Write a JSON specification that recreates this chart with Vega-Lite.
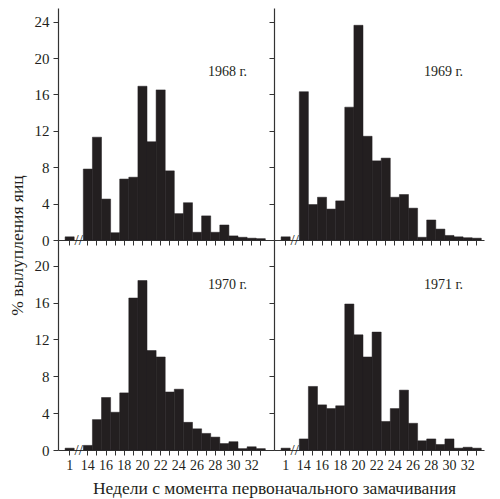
{
  "$schema": "https://vega.github.io/schema/vega-lite/v6.json",
  "padding": {"left": 8, "top": 8, "right": 6, "bottom": 2},
  "background": "white",
  "datasets": {
    "hatch": [
      {"year": 1968, "week": "1", "value": 0.35},
      {"year": 1968, "week": "14", "value": 7.8},
      {"year": 1968, "week": "15", "value": 11.3},
      {"year": 1968, "week": "16", "value": 4.5},
      {"year": 1968, "week": "17", "value": 0.8},
      {"year": 1968, "week": "18", "value": 6.7},
      {"year": 1968, "week": "19", "value": 6.9},
      {"year": 1968, "week": "20", "value": 16.9},
      {"year": 1968, "week": "21", "value": 10.8},
      {"year": 1968, "week": "22", "value": 16.5},
      {"year": 1968, "week": "23", "value": 7.6},
      {"year": 1968, "week": "24", "value": 2.9},
      {"year": 1968, "week": "25", "value": 4.1},
      {"year": 1968, "week": "26", "value": 0.85},
      {"year": 1968, "week": "27", "value": 2.65},
      {"year": 1968, "week": "28", "value": 0.85},
      {"year": 1968, "week": "29", "value": 1.65},
      {"year": 1968, "week": "30", "value": 0.45},
      {"year": 1968, "week": "31", "value": 0.3},
      {"year": 1968, "week": "32", "value": 0.2},
      {"year": 1968, "week": "33", "value": 0.15},
      {"year": 1969, "week": "1", "value": 0.35},
      {"year": 1969, "week": "14", "value": 16.3},
      {"year": 1969, "week": "15", "value": 3.9},
      {"year": 1969, "week": "16", "value": 4.7},
      {"year": 1969, "week": "17", "value": 3.4},
      {"year": 1969, "week": "18", "value": 4.3},
      {"year": 1969, "week": "19", "value": 14.6},
      {"year": 1969, "week": "20", "value": 23.6},
      {"year": 1969, "week": "21", "value": 11.4},
      {"year": 1969, "week": "22", "value": 8.7},
      {"year": 1969, "week": "23", "value": 9.0},
      {"year": 1969, "week": "24", "value": 4.7},
      {"year": 1969, "week": "25", "value": 5.0},
      {"year": 1969, "week": "26", "value": 3.5},
      {"year": 1969, "week": "27", "value": 0.3},
      {"year": 1969, "week": "28", "value": 2.2},
      {"year": 1969, "week": "29", "value": 1.2},
      {"year": 1969, "week": "30", "value": 0.5},
      {"year": 1969, "week": "31", "value": 0.35},
      {"year": 1969, "week": "32", "value": 0.25},
      {"year": 1969, "week": "33", "value": 0.2},
      {"year": 1970, "week": "1", "value": 0.2},
      {"year": 1970, "week": "14", "value": 0.5},
      {"year": 1970, "week": "15", "value": 3.3},
      {"year": 1970, "week": "16", "value": 5.7},
      {"year": 1970, "week": "17", "value": 4.1},
      {"year": 1970, "week": "18", "value": 6.2},
      {"year": 1970, "week": "19", "value": 16.5},
      {"year": 1970, "week": "20", "value": 18.4},
      {"year": 1970, "week": "21", "value": 10.8},
      {"year": 1970, "week": "22", "value": 10.1},
      {"year": 1970, "week": "23", "value": 6.3},
      {"year": 1970, "week": "24", "value": 6.6},
      {"year": 1970, "week": "25", "value": 3.0},
      {"year": 1970, "week": "26", "value": 2.3},
      {"year": 1970, "week": "27", "value": 1.8},
      {"year": 1970, "week": "28", "value": 1.4},
      {"year": 1970, "week": "29", "value": 0.7},
      {"year": 1970, "week": "30", "value": 0.9},
      {"year": 1970, "week": "31", "value": 0.15},
      {"year": 1970, "week": "32", "value": 0.35},
      {"year": 1970, "week": "33", "value": 0.15},
      {"year": 1971, "week": "1", "value": 0.2},
      {"year": 1971, "week": "14", "value": 1.2},
      {"year": 1971, "week": "15", "value": 6.9},
      {"year": 1971, "week": "16", "value": 4.9},
      {"year": 1971, "week": "17", "value": 4.5},
      {"year": 1971, "week": "18", "value": 4.8},
      {"year": 1971, "week": "19", "value": 15.85},
      {"year": 1971, "week": "20", "value": 12.5},
      {"year": 1971, "week": "21", "value": 10.1},
      {"year": 1971, "week": "22", "value": 12.8},
      {"year": 1971, "week": "23", "value": 3.1},
      {"year": 1971, "week": "24", "value": 4.5},
      {"year": 1971, "week": "25", "value": 6.5},
      {"year": 1971, "week": "26", "value": 2.9},
      {"year": 1971, "week": "27", "value": 1.0},
      {"year": 1971, "week": "28", "value": 1.2},
      {"year": 1971, "week": "29", "value": 0.6},
      {"year": 1971, "week": "30", "value": 1.2},
      {"year": 1971, "week": "31", "value": 0.2},
      {"year": 1971, "week": "32", "value": 0.3},
      {"year": 1971, "week": "33", "value": 0.2}
    ]
  },
  "columns": 2,
  "spacing": 0,
  "bounds": "flush",
  "concat": [
    {
      "width": 216,
      "height": 232,
      "layer": [
        {
          "data": {"name": "hatch"},
          "transform": [{"filter": "datum.year == 1968"}],
          "mark": {"type": "bar", "color": "#231f20", "stroke": "#231f20", "strokeWidth": 0.5},
          "encoding": {
            "x": {
              "field": "week", "type": "ordinal",
              "scale": {"domain": ["1", "gap", "14", "15", "16", "17", "18", "19", "20", "21", "22", "23", "24", "25", "26", "27", "28", "29", "30", "31", "32", "33"], "paddingInner": 0, "paddingOuter": 0.868, "align": 0.45},
              "axis": {"title": null, "labels": false, "bandPosition": 0.5, "values": ["1", "14", "15", "16", "17", "18", "19", "20", "21", "22", "23", "24", "25", "26", "27", "28", "29", "30", "31", "32", "33"]}
            },
            "y": {
              "field": "value", "type": "quantitative",
              "scale": {"domain": [0, 25.5], "nice": false},
              "axis": {
                "values": [0, 4, 8, 12, 16, 20, 24],
                "tickCount": 12,
                "title": "% вылупления яиц",
                "titleX": -41, "titleY": 237, "titleAngle": -90,
                "titleAlign": "center", "titleBaseline": "middle"
              }
            }
          }
        },
        {
          "data": {"values": [{"label": "1968 г."}]},
          "mark": {"type": "text", "align": "right", "baseline": "middle", "fontSize": 14, "color": "#231f20"},
          "encoding": {
            "x": {"datum": "32", "type": "ordinal", "bandPosition": 0},
            "y": {"datum": 18.5, "type": "quantitative"},
            "text": {"field": "label"}
          }
        },
        {
          "data": {"values": [{"mark": "//"}]},
          "mark": {"type": "text", "align": "center", "baseline": "middle", "fontSize": 15, "color": "#231f20"},
          "encoding": {
            "x": {"datum": "gap", "type": "ordinal"},
            "y": {"datum": 0, "type": "quantitative"},
            "text": {"field": "mark"}
          }
        }
      ]
    },
    {
      "width": 210,
      "height": 232,
      "layer": [
        {
          "data": {"name": "hatch"},
          "transform": [{"filter": "datum.year == 1969"}],
          "mark": {"type": "bar", "color": "#231f20", "stroke": "#231f20", "strokeWidth": 0.5},
          "encoding": {
            "x": {
              "field": "week", "type": "ordinal",
              "scale": {"domain": ["1", "gap", "14", "15", "16", "17", "18", "19", "20", "21", "22", "23", "24", "25", "26", "27", "28", "29", "30", "31", "32", "33"], "paddingInner": 0, "paddingOuter": 0.538, "align": 0.724},
              "axis": {"title": null, "labels": false, "bandPosition": 0.5, "values": ["1", "14", "15", "16", "17", "18", "19", "20", "21", "22", "23", "24", "25", "26", "27", "28", "29", "30", "31", "32", "33"]}
            },
            "y": {
              "field": "value", "type": "quantitative",
              "scale": {"domain": [0, 25.5], "nice": false},
              "axis": {"values": [0, 4, 8, 12, 16, 20, 24], "tickCount": 12, "labels": false, "title": null}
            }
          }
        },
        {
          "data": {"values": [{"label": "1969 г."}]},
          "mark": {"type": "text", "align": "right", "baseline": "middle", "fontSize": 14, "color": "#231f20"},
          "encoding": {
            "x": {"datum": "32", "type": "ordinal", "bandPosition": 0},
            "y": {"datum": 18.5, "type": "quantitative"},
            "text": {"field": "label"}
          }
        },
        {
          "data": {"values": [{"mark": "//"}]},
          "mark": {"type": "text", "align": "center", "baseline": "middle", "fontSize": 15, "color": "#231f20"},
          "encoding": {
            "x": {"datum": "gap", "type": "ordinal"},
            "y": {"datum": 0, "type": "quantitative"},
            "text": {"field": "mark"}
          }
        }
      ]
    },
    {
      "width": 216,
      "height": 210,
      "layer": [
        {
          "data": {"name": "hatch"},
          "transform": [{"filter": "datum.year == 1970"}],
          "mark": {"type": "bar", "color": "#231f20", "stroke": "#231f20", "strokeWidth": 0.5},
          "encoding": {
            "x": {
              "field": "week", "type": "ordinal",
              "scale": {"domain": ["1", "gap", "14", "15", "16", "17", "18", "19", "20", "21", "22", "23", "24", "25", "26", "27", "28", "29", "30", "31", "32", "33"], "paddingInner": 0, "paddingOuter": 0.868, "align": 0.45},
              "axis": {
                "bandPosition": 0.5,
                "values": ["1", "14", "15", "16", "17", "18", "19", "20", "21", "22", "23", "24", "25", "26", "27", "28", "29", "30", "31", "32", "33"],
                "labelExpr": "datum.value == '1' || (toNumber(datum.value) % 2 == 0 && toNumber(datum.value) < 33) ? datum.value : ''",
                "title": "Недели с момента первоначального замачивания",
                "titleX": 216, "titleY": 38, "titleAlign": "center", "titleBaseline": "middle"
              }
            },
            "y": {
              "field": "value", "type": "quantitative",
              "scale": {"domain": [0, 22.8], "nice": false},
              "axis": {"values": [0, 4, 8, 12, 16, 20], "tickCount": 12, "title": null}
            }
          }
        },
        {
          "data": {"values": [{"label": "1970 г."}]},
          "mark": {"type": "text", "align": "right", "baseline": "middle", "fontSize": 14, "color": "#231f20"},
          "encoding": {
            "x": {"datum": "32", "type": "ordinal", "bandPosition": 0},
            "y": {"datum": 17.9, "type": "quantitative"},
            "text": {"field": "label"}
          }
        },
        {
          "data": {"values": [{"mark": "//"}]},
          "mark": {"type": "text", "align": "center", "baseline": "middle", "fontSize": 15, "color": "#231f20"},
          "encoding": {
            "x": {"datum": "gap", "type": "ordinal"},
            "y": {"datum": 0, "type": "quantitative"},
            "text": {"field": "mark"}
          }
        }
      ]
    },
    {
      "width": 210,
      "height": 210,
      "layer": [
        {
          "data": {"name": "hatch"},
          "transform": [{"filter": "datum.year == 1971"}],
          "mark": {"type": "bar", "color": "#231f20", "stroke": "#231f20", "strokeWidth": 0.5},
          "encoding": {
            "x": {
              "field": "week", "type": "ordinal",
              "scale": {"domain": ["1", "gap", "14", "15", "16", "17", "18", "19", "20", "21", "22", "23", "24", "25", "26", "27", "28", "29", "30", "31", "32", "33"], "paddingInner": 0, "paddingOuter": 0.538, "align": 0.724},
              "axis": {
                "title": null,
                "bandPosition": 0.5,
                "values": ["1", "14", "15", "16", "17", "18", "19", "20", "21", "22", "23", "24", "25", "26", "27", "28", "29", "30", "31", "32", "33"],
                "labelExpr": "datum.value == '1' || (toNumber(datum.value) % 2 == 0 && toNumber(datum.value) < 33) ? datum.value : ''"
              }
            },
            "y": {
              "field": "value", "type": "quantitative",
              "scale": {"domain": [0, 22.8], "nice": false},
              "axis": {"values": [0, 4, 8, 12, 16, 20], "tickCount": 12, "labels": false, "title": null}
            }
          }
        },
        {
          "data": {"values": [{"label": "1971 г."}]},
          "mark": {"type": "text", "align": "right", "baseline": "middle", "fontSize": 14, "color": "#231f20"},
          "encoding": {
            "x": {"datum": "32", "type": "ordinal", "bandPosition": 0},
            "y": {"datum": 17.9, "type": "quantitative"},
            "text": {"field": "label"}
          }
        },
        {
          "data": {"values": [{"mark": "//"}]},
          "mark": {"type": "text", "align": "center", "baseline": "middle", "fontSize": 15, "color": "#231f20"},
          "encoding": {
            "x": {"datum": "gap", "type": "ordinal"},
            "y": {"datum": 0, "type": "quantitative"},
            "text": {"field": "mark"}
          }
        }
      ]
    }
  ],
  "config": {
    "font": "Liberation Serif",
    "view": {"stroke": null},
    "text": {"font": "Liberation Serif"},
    "axis": {
      "grid": false,
      "labelOverlap": false,
      "domainColor": "#333333",
      "domainWidth": 1.2,
      "tickColor": "#333333",
      "tickWidth": 1,
      "tickSize": 5,
      "labelFont": "Liberation Serif",
      "labelColor": "#231f20",
      "titleFont": "Liberation Serif",
      "titleFontSize": 17.5,
      "titleFontWeight": "normal",
      "titleColor": "#231f20"
    },
    "axisX": {"labelFontSize": 14, "labelPadding": 3, "labelAngle": 0},
    "axisY": {"labelFontSize": 15, "labelPadding": 4}
  }
}
